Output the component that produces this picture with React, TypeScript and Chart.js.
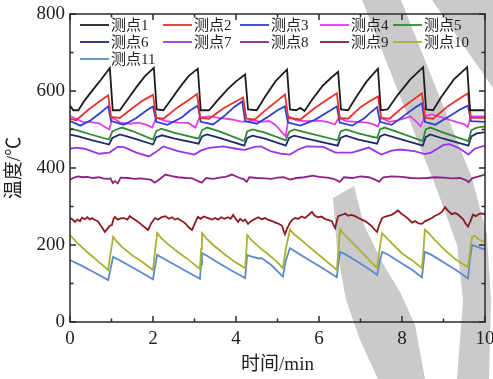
import React, { useEffect, useRef } from "react";
import { Chart, registerables } from "chart.js";
Chart.register(...registerables);

// ---------- data ----------
const seriesNames = ["测点1", "测点2", "测点3", "测点4", "测点5", "测点6", "测点7", "测点8", "测点9", "测点10", "测点11"];
const seriesColors = ["#1c1c1c", "#e8322c", "#2b3fd2", "#e23ee6", "#2f8a35", "#1b2b6b", "#9b35e6", "#8a2383", "#8c1c24", "#a9b12e", "#5b8bc9"];
const xTickValues = [0, 2, 4, 6, 8, 10];
const yTickValues = [0, 200, 400, 600, 800];
const xAxisTitle = "时间/min";
const yAxisTitle = "温度/℃";

const s1: [number, number][] = [[0,562],[0.08,550],[0.2,550],[0.35,575],[0.55,603],[0.75,630],[0.96,660],[1.03,550],[1.2,550],[1.4,580],[1.6,610],[1.8,638],[2.02,660],[2.09,552],[2.25,550],[2.45,580],[2.65,610],[2.85,638],[3.08,658],[3.15,550],[3.35,550],[3.55,575],[3.8,605],[4.0,625],[4.22,643],[4.29,552],[4.5,550],[4.7,585],[4.95,625],[5.23,656],[5.3,552],[5.45,550],[5.55,556],[5.65,548],[5.85,580],[6.1,615],[6.3,635],[6.46,650],[6.53,552],[6.7,550],[6.9,585],[7.15,625],[7.42,658],[7.49,550],[7.65,552],[7.9,590],[8.2,630],[8.51,662],[8.58,552],[8.75,550],[8.95,585],[9.25,630],[9.57,662],[9.64,550],[10,550]];
const s2: [number, number][] = [[0,528],[0.15,524],[0.45,552],[0.7,572],[0.92,589],[0.99,533],[1.2,530],[1.5,555],[1.75,575],[2.0,590],[2.08,530],[2.25,528],[2.6,558],[2.85,576],[3.06,592],[3.14,530],[3.35,528],[3.7,555],[3.95,570],[4.17,583],[4.25,528],[4.45,526],[4.8,558],[5.0,575],[5.18,591],[5.26,530],[5.55,526],[5.9,556],[6.2,578],[6.43,594],[6.5,530],[6.7,528],[7.0,558],[7.2,572],[7.42,586],[7.5,530],[7.7,528],[8.0,556],[8.25,576],[8.48,594],[8.56,530],[8.75,528],[9.1,560],[9.35,578],[9.59,594],[9.66,530],[10,530]];
const s3: [number, number][] = [[0,522],[0.25,510],[0.5,524],[0.75,545],[0.92,560],[0.99,522],[1.3,512],[1.6,530],[1.85,550],[2.0,560],[2.08,520],[2.35,512],[2.7,532],[2.9,550],[3.08,562],[3.15,520],[3.45,513],[3.75,538],[3.95,558],[4.15,573],[4.22,522],[4.5,515],[4.8,535],[5.0,550],[5.18,560],[5.25,518],[5.55,510],[5.9,525],[6.2,545],[6.43,560],[6.5,518],[6.8,510],[7.1,530],[7.25,545],[7.4,558],[7.47,520],[7.75,512],[8.1,540],[8.3,556],[8.48,568],[8.55,520],[8.8,512],[9.15,535],[9.4,552],[9.59,562],[9.66,522],[10,520]];
const s4: [number, number][] = [[0,535],[0.15,528],[0.3,520],[0.5,519],[0.7,516],[0.85,506],[0.95,500],[1.02,531],[1.2,518],[1.45,515],[1.65,518],[1.85,512],[1.98,505],[2.08,531],[2.3,522],[2.6,518],[2.85,517],[3.02,505],[3.12,531],[3.35,534],[3.6,530],[3.9,526],[4.1,521],[4.25,520],[4.4,524],[4.6,520],[4.8,522],[4.95,512],[5.1,494],[5.2,482],[5.27,534],[5.45,524],[5.7,522],[6.0,523],[6.2,520],[6.38,513],[6.48,530],[6.65,522],[6.9,520],[7.15,518],[7.3,514],[7.42,508],[7.5,530],[7.7,520],[7.9,524],[8.2,534],[8.35,520],[8.45,508],[8.55,535],[8.72,539],[9.0,530],[9.3,520],[9.5,514],[9.58,506],[9.66,534],[10,534]];
const s5: [number, number][] = [[0,503],[0.2,497],[0.5,487],[0.94,474],[1.02,495],[1.12,500],[1.25,505],[1.5,496],[2.0,474],[2.08,496],[2.2,502],[2.5,492],[3.1,476],[3.18,498],[3.3,505],[3.6,495],[4.2,470],[4.27,495],[4.4,500],[4.7,492],[5.2,472],[5.28,494],[5.4,500],[5.7,492],[6.45,472],[6.52,495],[6.65,500],[6.95,490],[7.4,478],[7.47,500],[7.58,505],[7.9,493],[8.5,470],[8.57,500],[8.68,505],[9.0,492],[9.6,470],[9.67,498],[9.8,505],[10,508]];
const s6: [number, number][] = [[0,487],[0.2,482],[0.5,473],[0.94,461],[1.02,478],[1.2,487],[1.5,478],[2.0,461],[2.08,480],[2.22,485],[2.5,477],[3.1,463],[3.18,482],[3.3,487],[3.6,478],[4.2,458],[4.27,478],[4.4,484],[4.7,476],[5.2,458],[5.28,478],[5.4,484],[5.7,476],[6.45,458],[6.52,478],[6.65,484],[6.95,474],[7.4,463],[7.47,482],[7.58,487],[7.9,477],[8.5,458],[8.57,480],[8.68,487],[9.0,476],[9.6,458],[9.67,482],[9.8,490],[10,493]];
const s7: [number, number][] = [[0,450],[0.15,453],[0.35,450],[0.7,437],[0.95,440],[1.15,455],[1.3,454],[1.6,440],[1.9,430],[2.05,440],[2.25,456],[2.6,444],[3.0,435],[3.15,445],[3.35,452],[3.7,456],[4.0,450],[4.2,447],[4.45,455],[4.6,456],[4.85,443],[5.1,437],[5.3,435],[5.5,448],[5.7,456],[6.1,455],[6.4,440],[6.8,440],[7.2,453],[7.5,435],[7.75,445],[7.95,448],[8.3,444],[8.55,436],[8.7,440],[9.0,460],[9.15,462],[9.4,450],[9.6,435],[9.75,450],[10,458]];
const s8: [number, number][] = [[0,370],[0.1,375],[0.2,378],[0.3,376],[0.42,377],[0.55,374],[0.7,376],[0.8,373],[0.9,372],[0.98,373],[1.03,361],[1.08,366],[1.15,360],[1.22,375],[1.4,374],[1.55,372],[1.7,373],[1.85,371],[1.96,369],[2.04,362],[2.15,370],[2.3,383],[2.45,379],[2.6,376],[2.8,374],[2.95,373],[3.1,365],[3.18,362],[3.28,374],[3.45,372],[3.6,375],[3.75,377],[3.9,383],[4.05,376],[4.2,370],[4.26,364],[4.32,376],[4.5,374],[4.7,373],[4.85,372],[5.0,375],[5.15,376],[5.3,370],[5.45,374],[5.65,376],[5.85,380],[6.0,377],[6.2,375],[6.35,372],[6.5,364],[6.6,376],[6.8,374],[7.0,378],[7.2,376],[7.35,370],[7.45,364],[7.55,376],[7.75,378],[8.0,377],[8.2,374],[8.4,373],[8.6,374],[8.8,376],[9.0,375],[9.2,373],[9.4,374],[9.55,368],[9.6,363],[9.7,374],[9.85,378],[10,383]];
const s9: [number, number][] = [[0,270],[0.06,266],[0.12,260],[0.18,266],[0.24,262],[0.29,271],[0.36,267],[0.42,272],[0.48,266],[0.53,270],[0.6,265],[0.67,262],[0.73,252],[0.79,243],[0.84,234],[0.9,242],[0.96,250],[1.01,252],[1.05,268],[1.08,273],[1.15,266],[1.22,269],[1.3,270],[1.38,266],[1.44,275],[1.49,271],[1.56,266],[1.64,260],[1.72,253],[1.8,246],[1.88,239],[1.95,255],[2.0,263],[2.05,270],[2.12,266],[2.2,272],[2.3,275],[2.38,268],[2.46,272],[2.53,266],[2.6,269],[2.7,262],[2.78,256],[2.86,246],[2.94,239],[3.0,254],[3.08,273],[3.15,268],[3.22,274],[3.33,270],[3.42,266],[3.5,270],[3.57,266],[3.64,272],[3.72,268],[3.81,272],[3.87,268],[3.93,278],[3.98,270],[4.05,260],[4.1,268],[4.17,262],[4.22,266],[4.29,255],[4.36,262],[4.46,268],[4.54,272],[4.62,267],[4.7,270],[4.78,265],[4.87,262],[4.95,258],[5.03,255],[5.11,250],[5.15,236],[5.18,228],[5.22,240],[5.3,258],[5.36,266],[5.42,270],[5.5,268],[5.58,274],[5.66,270],[5.75,278],[5.83,286],[5.9,276],[5.98,272],[6.06,274],[6.14,268],[6.22,265],[6.31,262],[6.36,250],[6.39,244],[6.43,262],[6.46,275],[6.55,278],[6.63,282],[6.7,276],[6.78,278],[6.87,275],[6.95,270],[7.03,266],[7.11,262],[7.2,255],[7.28,248],[7.34,240],[7.4,234],[7.46,255],[7.52,270],[7.6,274],[7.68,276],[7.76,279],[7.83,284],[7.9,290],[7.98,282],[8.07,275],[8.15,268],[8.24,258],[8.32,262],[8.4,256],[8.48,255],[8.56,262],[8.64,266],[8.72,270],[8.8,276],[8.88,280],[8.96,286],[9.04,298],[9.1,290],[9.2,280],[9.28,283],[9.35,279],[9.42,272],[9.48,266],[9.52,258],[9.59,248],[9.65,262],[9.71,279],[9.78,275],[9.86,281],[9.93,282],[10,279]];
const s10: [number, number][] = [[0,226],[0.15,208],[0.4,183],[0.65,160],[0.92,135],[0.98,180],[1.04,221],[1.12,210],[1.25,195],[1.5,173],[1.75,155],[2.0,135],[2.05,185],[2.1,231],[2.2,218],[2.35,203],[2.6,182],[2.85,162],[3.13,138],[3.16,190],[3.18,231],[3.28,218],[3.45,200],[3.7,178],[3.95,158],[4.22,140],[4.25,185],[4.27,226],[4.38,212],[4.55,195],[4.75,178],[4.95,160],[5.13,140],[5.2,190],[5.3,240],[5.4,228],[5.55,215],[5.8,192],[6.1,165],[6.43,135],[6.47,190],[6.51,240],[6.6,228],[6.75,212],[7.0,185],[7.2,162],[7.4,140],[7.46,190],[7.52,231],[7.6,222],[7.75,205],[8.0,178],[8.25,160],[8.48,140],[8.52,190],[8.55,240],[8.65,230],[8.8,212],[9.05,185],[9.3,162],[9.59,142],[9.64,185],[9.69,221],[9.75,224],[9.85,215],[10,208]];
const s11: [number, number][] = [[0,161],[0.3,145],[0.6,128],[0.92,109],[0.98,140],[1.04,169],[1.15,163],[1.4,148],[1.7,130],[2.0,111],[2.05,145],[2.1,174],[2.2,168],[2.5,150],[2.8,132],[3.13,112],[3.16,150],[3.18,179],[3.3,172],[3.6,152],[3.9,133],[4.22,114],[4.25,150],[4.27,174],[4.38,170],[4.55,165],[4.62,166],[4.85,148],[5.13,118],[5.2,160],[5.3,192],[5.4,185],[5.7,165],[6.05,142],[6.43,116],[6.47,155],[6.51,182],[6.65,175],[6.95,155],[7.2,138],[7.4,122],[7.46,155],[7.52,182],[7.65,176],[7.95,155],[8.25,135],[8.48,116],[8.52,155],[8.55,182],[8.7,175],[9.0,155],[9.3,135],[9.59,113],[9.64,165],[9.69,200],[9.8,196],[10,188]];

// ---------- styling ----------
const W = 493;
const H = 379;
const SERIF = "'Liberation Serif', 'Times New Roman', 'Noto Sans CJK SC', serif";
const AXIS_COLOR = "#2a2a2a";
const TEXT_COLOR = "#1e1e1e";

// decorative watermark bands (background, not data)
const watermarkPolys: [number, number][][] = [
  [[362,0],[401,0],[472,178],[487,235],[491,300],[489,379],[457,379],[463,300],[457,245],[437,190]],
  [[432,0],[493,0],[493,88]],
  [[333,198],[354,186],[364,225],[382,262],[400,292],[415,325],[425,379],[378,379],[360,340],[346,300],[337,250]],
];

const watermarkPlugin = {
  id: "watermark",
  beforeDraw(chart: any) {
    const ctx = chart.ctx;
    ctx.save();
    ctx.fillStyle = "#cacaca";
    for (const poly of watermarkPolys) {
      ctx.beginPath();
      poly.forEach(([x, y], i) => (i === 0 ? ctx.moveTo(x, y) : ctx.lineTo(x, y)));
      ctx.closePath();
      ctx.fill();
    }
    ctx.restore();
  },
};

const framePlugin = {
  id: "frame",
  afterDraw(chart: any) {
    const { ctx, chartArea: a, scales } = chart;
    const xs = scales.x;
    const ys = scales.y;
    ctx.save();
    ctx.strokeStyle = AXIS_COLOR;
    ctx.lineWidth = 1.5;
    ctx.strokeRect(a.left, a.top, a.right - a.left, a.bottom - a.top);
    const major = 6;
    const minor = 3.5;
    ctx.beginPath();
    for (let v = 0; v <= 10; v += 1) {
      const px = xs.getPixelForValue(v);
      const len = v % 2 === 0 ? major : minor;
      ctx.moveTo(px, a.bottom);
      ctx.lineTo(px, a.bottom - len);
      ctx.moveTo(px, a.top);
      ctx.lineTo(px, a.top + len);
    }
    for (let v = 0; v <= 800; v += 100) {
      const py = ys.getPixelForValue(v);
      const len = v % 200 === 0 ? major : minor;
      ctx.moveTo(a.left, py);
      ctx.lineTo(a.left + len, py);
      ctx.moveTo(a.right, py);
      ctx.lineTo(a.right - len, py);
    }
    ctx.stroke();

    // legend (5 columns, 3 rows)
    const colX = [10, 93, 170, 250, 323];
    const rowY = [11, 28, 45];
    ctx.font = "15px " + SERIF;
    ctx.textBaseline = "middle";
    ctx.textAlign = "left";
    chart.data.datasets.forEach((ds: any, i: number) => {
      const col = i % 5;
      const row = Math.floor(i / 5);
      const x = a.left + colX[col];
      const y = a.top + rowY[row];
      ctx.strokeStyle = ds.borderColor;
      ctx.lineWidth = 1.8;
      ctx.beginPath();
      ctx.moveTo(x, y);
      ctx.lineTo(x + 29, y);
      ctx.stroke();
      ctx.fillStyle = TEXT_COLOR;
      ctx.fillText(ds.label, x + 31, y + 1);
    });
    ctx.restore();
  },
};

export default function App() {
  const ref = useRef<HTMLCanvasElement>(null);
  useEffect(() => {
    document.body.style.margin = "0";
    const all = [s1, s2, s3, s4, s5, s6, s7, s8, s9, s10, s11];
    const chart = new Chart(ref.current as HTMLCanvasElement, {
      type: "line",
      data: {
        datasets: all.map((s, i) => ({
          label: seriesNames[i],
          data: s.map(([x, y]) => ({ x, y })),
          borderColor: seriesColors[i],
          backgroundColor: seriesColors[i],
          borderWidth: 1.8,
          pointRadius: 0,
          tension: 0,
          fill: false,
        })),
      },
      options: {
        animation: false,
        responsive: false,
        maintainAspectRatio: false,
        layout: { padding: { top: 14, right: 8, left: 0, bottom: 0 } },
        plugins: { legend: { display: false }, tooltip: { enabled: false } },
        scales: {
          x: {
            type: "linear",
            min: 0,
            max: 10,
            afterFit: (s: any) => { s.height = 57; s.paddingLeft = 0; s.paddingRight = 0; },
            afterBuildTicks: (s: any) => { s.ticks = xTickValues.map((v) => ({ value: v })); },
            ticks: { color: TEXT_COLOR, padding: 6, maxRotation: 0, font: { family: SERIF, size: 19 } },
            grid: { display: false, drawTicks: false },
            border: { display: false },
            title: { display: true, text: xAxisTitle, color: TEXT_COLOR, font: { family: SERIF, size: 19 }, padding: { bottom: 3, top: 0 } },
          },
          y: {
            type: "linear",
            min: 0,
            max: 800,
            afterFit: (s: any) => { s.width = 70; s.paddingTop = 0; s.paddingBottom = 0; },
            afterBuildTicks: (s: any) => { s.ticks = yTickValues.map((v) => ({ value: v })); },
            ticks: { color: TEXT_COLOR, padding: 5, font: { family: SERIF, size: 19 } },
            grid: { display: false, drawTicks: false },
            border: { display: false },
            title: { display: true, text: yAxisTitle, color: TEXT_COLOR, font: { family: SERIF, size: 19 }, padding: { top: 4, bottom: 0 } },
          },
        },
      },
      plugins: [watermarkPlugin, framePlugin],
    } as any);
    return () => chart.destroy();
  }, []);
  return (
    <div style={{ position: "absolute", left: 0, top: 0, width: W, height: H, background: "#fff" }}>
      <canvas ref={ref} width={W} height={H} style={{ display: "block", width: W, height: H }} />
    </div>
  );
}
